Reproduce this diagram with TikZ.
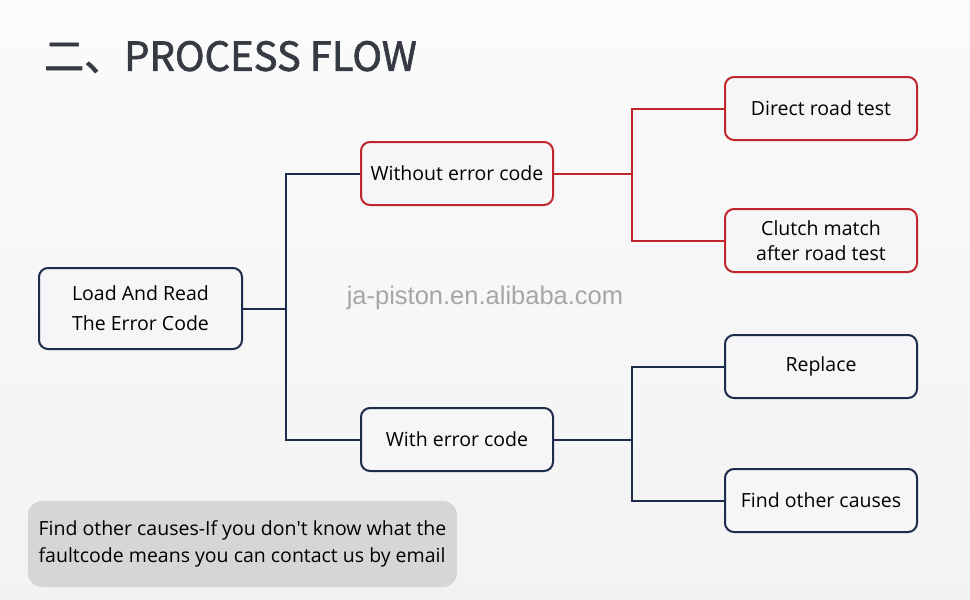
\documentclass[tikz,border=0pt]{standalone}
\usepackage{fontspec}
\setmainfont{Open Sans}
\newfontfamily\cjkfont[FakeBold=1.6]{Noto Sans CJK SC}
\newfontfamily\wmfont{Liberation Sans}
\usetikzlibrary{positioning}
\definecolor{flowred}{HTML}{C0272D}
\definecolor{flownavy}{HTML}{1D2B4C}
\definecolor{boxfill}{HTML}{F6F6F8}
\definecolor{notefill}{HTML}{D6D6D6}
\definecolor{titlegray}{HTML}{363B43}
\tikzstyle{edge}=[
	-,
	line width=2pt
]
\tikzstyle{stepbox}=[
	rectangle,
	rounded corners=9pt,
	line width=2pt,
	fill=boxfill,
	minimum width=192pt,
	minimum height=63pt,
	align=center,
	font=\fontsize{19.5}{25}\selectfont
]
\tikzstyle{redbox}=[
	stepbox,
	draw=flowred
]
\tikzstyle{navybox}=[
	stepbox,
	draw=flownavy
]

\begin{document}
\begin{tikzpicture}[x=1pt, y=-1pt]
\shade[top color=white!97!gray, bottom color=white!90!gray] (0,0) rectangle (970,600);
\useasboundingbox (0,0) rectangle (970,600);

\node[anchor=west, text=titlegray, inner sep=0pt] (title) at (44,57)
    {\cjkfont\fontsize{40}{44}\selectfont 二、PROCESS FLOW};

\node[text=black!35, inner sep=0pt] (mark) at (485,298)
    {\wmfont\fontsize{25.5}{30}\selectfont ja-piston.en.alibaba.com};

\node[navybox, minimum width=203pt, minimum height=81pt,
      font=\fontsize{19.5}{30}\selectfont] (load) at (140.5,308.5) {Load And Read\\The Error Code};

\node[redbox] (without) at (457,173.5) {Without error code};
\node[navybox] (with) at (457,439.5) {With error code};

\node[redbox] (direct) at (821,108.5) {Direct road test};
\node[redbox] (clutch) at (821,240.5) {Clutch match\\after road test};
\node[navybox] (replace) at (821,366.5) {Replace};
\node[navybox] (other) at (821,500.5) {Find other causes};

\node[rectangle, rounded corners=14pt, fill=notefill, minimum width=429pt, minimum height=86pt,
      align=left, font=\fontsize{19.5}{27}\selectfont] (note) at (242.5,544)
    {Find other causes-If you don{\addfontfeature{Ligatures=TeXOff}'}t know what the\\faultcode means you can contact us by email};

\draw[edge, draw=flownavy] (load.east) -- ++(43,0) coordinate (split0);
\draw[edge, draw=flownavy] (without.west) -| (split0) |- (with.west);

\draw[edge, draw=flowred] (without.east) -- ++(78,0) coordinate (split1);
\draw[edge, draw=flowred] (direct.west) -| (split1) |- (clutch.west);

\draw[edge, draw=flownavy] (with.east) -- ++(78,0) coordinate (split2);
\draw[edge, draw=flownavy] (replace.west) -| (split2) |- (other.west);

\end{tikzpicture}
\end{document}
